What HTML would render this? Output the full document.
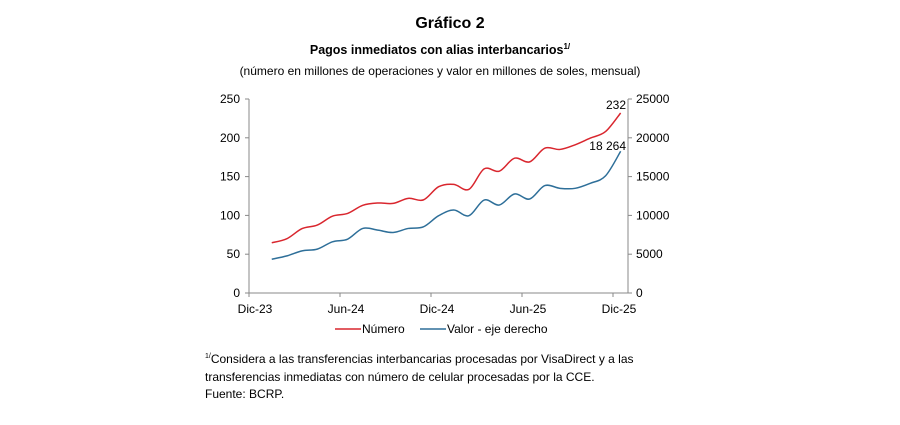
<!DOCTYPE html>
<html><head><meta charset="utf-8"><style>
body{margin:0;background:#fff;width:900px;height:420px;overflow:hidden}
svg text{font-family:"Liberation Sans",Arial,sans-serif;fill:#000}
</style></head><body>
<svg id="s" width="900" height="420" xmlns="http://www.w3.org/2000/svg">
<text x="450" y="28" font-size="16" font-weight="bold" text-anchor="middle">Gráfico 2</text>
<text x="440" y="54" font-size="12.5" font-weight="bold" text-anchor="middle">Pagos inmediatos con alias interbancarios<tspan font-size="8" dy="-5">1/</tspan></text>
<text x="440" y="75" font-size="12" text-anchor="middle">(número en millones de operaciones y valor en millones de soles, mensual)</text>
<g stroke="#888" stroke-width="1" fill="none">
<line x1="249" y1="99" x2="249" y2="293"/>
<line x1="628" y1="99" x2="628" y2="293"/>
<line x1="249" y1="293" x2="628" y2="293"/>
</g>
<g id="ticks" stroke="#888"></g>
<g id="labels" font-size="12"></g>
<path id="red" fill="none" stroke="#d9262e" stroke-width="1.5"/>
<path id="blue" fill="none" stroke="#2e6f99" stroke-width="1.5"/>
<text x="626" y="109" font-size="12" text-anchor="end">232</text>
<text x="626" y="150" font-size="12" text-anchor="end">18 264</text>
<line x1="335" y1="329" x2="361" y2="329" stroke="#d9262e" stroke-width="1.5"/>
<text x="362" y="333" font-size="12">Número</text>
<line x1="420" y1="329" x2="446" y2="329" stroke="#2e6f99" stroke-width="1.5"/>
<text x="447" y="333" font-size="12">Valor - eje derecho</text>
<text x="205" y="363" font-size="12"><tspan font-size="7" dy="-5">1/</tspan><tspan dy="5">Considera a las transferencias interbancarias procesadas por VisaDirect y a las</tspan></text>
<text x="205" y="381" font-size="12">transferencias inmediatas con número de celular procesadas por la CCE.</text>
<text x="205" y="398" font-size="12">Fuente: BCRP.</text>
</svg>
<script>
var NS="http://www.w3.org/2000/svg";
function el(t,a,p,txt){var e=document.createElementNS(NS,t);for(var k in a)e.setAttribute(k,a[k]);if(txt!=null)e.textContent=txt;document.getElementById(p).appendChild(e);}
var y0=293,h=194;
for(var i=0;i<=5;i++){var y=y0-i*h/5;
el("line",{x1:245,y1:y,x2:249,y2:y},"ticks");el("line",{x1:628,y1:y,x2:632,y2:y},"ticks");
el("text",{x:240,y:y+4,"text-anchor":"end"},"labels",String(i*50));
el("text",{x:636,y:y+4},"labels",String(i*5000));}
var mx=["Dic-23","Jun-24","Dic-24","Jun-25","Dic-25"];
for(var j=0;j<5;j++){var x=249+j*91;el("line",{x1:x,y1:293,x2:x,y2:297},"ticks");
el("text",{x:x+6,y:313,"text-anchor":"middle"},"labels",mx[j]);}
var R=[64.7,70,83,87.5,99,102.5,113,116,115.5,122,120,137,140,133.6,160,157,173.7,169,186.6,185,191,199.6,208,232];
var B=[4350,4780,5430,5650,6600,6940,8320,8100,7800,8320,8530,9960,10700,9960,11980,11340,12760,12110,13840,13490,13490,14140,15090,18264];
function path(v,max){var p=v.map(function(d,i){return [249+(i+1.5)*15.17,y0-d/max*h];});
var s="M"+p[0][0]+","+p[0][1];
for(var i=0;i<p.length-1;i++){var a=p[Math.max(i-1,0)],b=p[i],c=p[i+1],d=p[Math.min(i+2,p.length-1)];
s+=" C"+(b[0]+(c[0]-a[0])/6)+","+(b[1]+(c[1]-a[1])/6)+" "+(c[0]-(d[0]-b[0])/6)+","+(c[1]-(d[1]-b[1])/6)+" "+c[0]+","+c[1];}
return s;}
document.getElementById("red").setAttribute("d",path(R,250));
document.getElementById("blue").setAttribute("d",path(B,25000));
</script>
</body></html>
